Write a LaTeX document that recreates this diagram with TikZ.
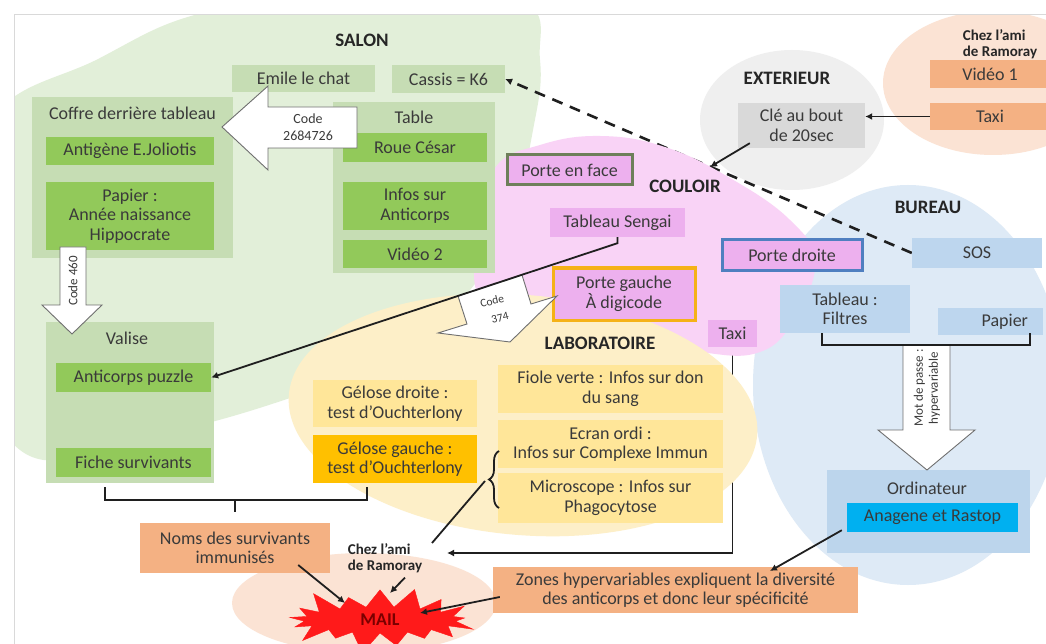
\documentclass[tikz,border=0pt]{standalone}
\usepackage{fontspec}
\setmainfont{Carlito}
\usetikzlibrary{arrows.meta,shapes.symbols,decorations.pathreplacing,calc}
\pgfdeclarelayer{back}
\pgfdeclarelayer{hidden}
\pgfdeclarelayer{mid}
\pgfsetlayers{back,hidden,mid,main}
\definecolor{txtc}{HTML}{3A3A3A}
\definecolor{lblc}{HTML}{262626}
\definecolor{linec}{HTML}{1F1F1F}
\definecolor{framec}{HTML}{D9D9D9}
\definecolor{greenbg}{HTML}{E2EFD9}
\definecolor{gcont}{HTML}{C6DDB4}
\definecolor{gbright}{HTML}{92C95A}
\definecolor{greybg}{HTML}{EFEFEF}
\definecolor{greybox}{HTML}{D9D9D9}
\definecolor{peachbg}{HTML}{FBE3D4}
\definecolor{peachbox}{HTML}{F4B183}
\definecolor{pinkbg}{HTML}{F9D3F6}
\definecolor{pinkbox}{HTML}{EDB0EE}
\definecolor{olivec}{HTML}{6E7F5A}
\definecolor{goldb}{HTML}{F5B217}
\definecolor{blueb}{HTML}{4F7FC0}
\definecolor{bluebg}{HTML}{DEEAF6}
\definecolor{bluebox}{HTML}{BDD6EE}
\definecolor{bluecont}{HTML}{BCD5EC}
\definecolor{cyanbox}{HTML}{00B0F0}
\definecolor{labbg}{HTML}{FDEFC8}
\definecolor{ybox}{HTML}{FFE699}
\definecolor{orbox}{HTML}{FFC000}
\definecolor{mailred}{HTML}{FF1A1A}
\definecolor{mailtxt}{HTML}{7A0000}
\definecolor{blkc}{HTML}{6F6F6F}
\tikzset{
  box/.style={inner sep=0pt, align=center, text=txtc, font=\fontsize{18}{19.5}\selectfont},
  ttl/.style={inner sep=0pt, align=center, text=txtc, font=\fontsize{18}{19.5}\selectfont},
  lbl/.style={inner sep=0pt, text=lblc, font=\fontsize{19}{21}\selectfont\bfseries},
  lbls/.style={inner sep=0pt, align=left, text=lblc, font=\fontsize{15}{15.5}\selectfont\bfseries},
  arr/.style={draw=linec, line width=1.8pt, -{Latex[length=7pt,width=7pt]}},
  dasharr/.style={draw=linec, line width=2.6pt, dash pattern=on 11pt off 8pt, -{Latex[length=7pt,width=7pt]}},
  ln/.style={draw=linec, line width=1.8pt},
  blk/.style={fill=white, draw=blkc, line width=0.9pt, line join=miter},
  blktxt/.style={inner sep=0pt, align=center, text=txtc, font=\fontsize{13}{15}\selectfont},
  brk/.style={draw=linec, line width=2pt},
}
\begin{document}
\begin{tikzpicture}[x=1pt,y=-1pt]
\useasboundingbox (0,0) rectangle (1046,644);
\begin{pgfonlayer}{back}
\fill[white] (0,0) rectangle (1046,644);
\begin{scope}
\clip (14,15) rectangle (1046,644);
\fill[greenbg] plot[smooth cycle, tension=0.7] coordinates {(214,10) (380,-8) (520,0) (540,60) (533,130) (512,210) (470,290) (390,355) (290,398) (150,436) (20,450) (-25,300) (-15,130) (100,58)};
\fill[greybg] (792,120) ellipse [x radius=92, y radius=70];
\fill[peachbg] (993,83) ellipse [x radius=110, y radius=72];
\fill[bluebg] (908,385) ellipse [x radius=155, y radius=200];
\fill[peachbg] (364,603) ellipse [x radius=132, y radius=50];
\end{scope}
\draw[framec, line width=1pt] (14,644) -- (14,15) -- (1046,15);
\end{pgfonlayer}

% ---------- SALON ----------
\node[lbl] (salon) at (362,40) {SALON};
\node[box, fill=gcont, minimum width=143, minimum height=27] (emile) at (303.5,78.5) {Emile le chat};
\node[box, fill=gcont, minimum width=113, minimum height=28] (cassis) at (448.5,79) {Cassis = K6};
\node[box, fill=gcont, minimum width=201, minimum height=161] (coffre) at (132.5,177.5) {};
\node[ttl] (coffreT) at (132.5,113) {Coffre derrière tableau};
\node[box, fill=gbright, minimum width=168, minimum height=28] (antigene) at (130,151) {Antigène E.Joliotis};
\node[box, fill=gbright, minimum width=168, minimum height=68] (papier) at (130,216) {Papier :\\Année naissance\\Hippocrate};
\node[box, fill=gcont, minimum width=162, minimum height=171] (table) at (414,187.5) {};
\node[ttl] (tableT) at (414,117) {Table};
\node[box, fill=gbright, minimum width=144, minimum height=29] (roue) at (415,147.5) {Roue César};
\node[box, fill=gbright, minimum width=144, minimum height=48] (infosA) at (415,206) {Infos sur\\Anticorps};
\node[box, fill=gbright, minimum width=144, minimum height=28] (video2) at (415,254) {Vidéo 2};
\node[box, fill=gcont, minimum width=168, minimum height=161] (valise) at (130,402.5) {};
\node[ttl] (valiseT) at (127,338) {Valise};
\node[box, fill=gbright, minimum width=155, minimum height=29] (puzzle) at (133.5,377.5) {Anticorps puzzle};
\node[box, fill=gbright, minimum width=155, minimum height=29] (fiche) at (133.5,462.5) {Fiche survivants};

% ---------- EXTERIEUR ----------
\node[lbl] (ext) at (787,78) {EXTERIEUR};
\node[box, fill=greybox, minimum width=127, minimum height=45] (cle) at (801.5,125.5) {Clé au bout\\de 20sec};

% ---------- Chez l'ami (haut) ----------
\node[lbls] (chez1) at (1000,44) {Chez l’ami\\de Ramoray};
\node[box, fill=peachbox, minimum width=120, minimum height=28] (video1) at (990,74) {Vidéo 1};
\node[box, fill=peachbox, minimum width=120, minimum height=27] (taxiP) at (990,116.5) {Taxi};

% ---------- COULOIR ----------
\node[lbl] (couloir) at (685,186) {COULOIR};
\node[box, fill=pinkbox, draw=olivec, line width=3pt, minimum width=125, minimum height=30] (pface) at (569.5,170) {Porte en face};
\node[box, fill=pinkbox, minimum width=135, minimum height=29] (sengai) at (617.5,222.5) {Tableau Sengai};
\node[box, fill=pinkbox, draw=goldb, line width=3pt, minimum width=142, minimum height=52] (pgauche) at (624,294) {Porte gauche\\À digicode};
\node[box, fill=pinkbox, draw=blueb, line width=3pt, minimum width=140, minimum height=30] (pdroite) at (792,255) {Porte droite};
\node[box, fill=pinkbox, minimum width=49, minimum height=27] (taxiK) at (732.5,333.5) {Taxi};

% ---------- BUREAU ----------
\node[lbl] (bureau) at (928,207) {BUREAU};
\node[box, fill=bluebox, minimum width=130, minimum height=30] (sos) at (977,253) {SOS};
\node[box, fill=bluebox, minimum width=130, minimum height=48] (filtres) at (845,309) {Tableau :\\Filtres};
\node[box, fill=bluebox, minimum width=105, minimum height=27, text width=75, align=right] (papierB) at (990.5,321.5) {Papier};
\node[box, fill=bluecont, minimum width=203, minimum height=83] (ordi) at (928.5,511.5) {};
\node[ttl] (ordiT) at (927,488) {Ordinateur};
\node[box, fill=cyanbox, minimum width=171, minimum height=29] (anagene) at (932.5,517.5) {Anagene et Rastop};

% ---------- LABORATOIRE ----------
\node[lbl] (labo) at (600,343) {LABORATOIRE};
\node[box, fill=ybox, minimum width=164, minimum height=47] (gdroite) at (395,403.5) {Gélose droite :\\test d’Ouchterlony};
\node[box, fill=orbox, minimum width=164, minimum height=48] (ggauche) at (395,459) {Gélose gauche :\\test d’Ouchterlony};
\node[box, fill=ybox, minimum width=225, minimum height=48] (fiole) at (610.5,389) {Fiole verte : Infos sur don\\du sang};
\node[box, fill=ybox, minimum width=225, minimum height=48] (ecran) at (610.5,444) {Ecran ordi :\\Infos sur Complexe Immun};
\node[box, fill=ybox, minimum width=225, minimum height=50] (micro) at (610.5,498) {Microscope : Infos sur\\Phagocytose};

% ---------- bas ----------
\node[box, fill=peachbox, minimum width=190, minimum height=50] (noms) at (235,548) {Noms des survivants\\immunisés};
\node[lbls] (chez2) at (385,558) {Chez l’ami\\de Ramoray};
\node[box, fill=peachbox, minimum width=365, minimum height=46] (zones) at (675.5,590) {Zones hypervariables expliquent la diversité\\des anticorps et donc leur spécificité};
\node[starburst, starburst points=17, starburst point height=24pt, fill=mailred, draw=mailred, minimum width=200pt, minimum height=74pt, inner sep=0pt, text=mailtxt, font=\fontsize{18}{18}\selectfont\bfseries] (mail) at (380,620) {MAIL};

% ---------- block arrows ----------
\draw[blk] (222,127) -- (268,86) -- (268,107) -- (357,107) -- (357,148) -- (268,148) -- (268,170) -- cycle;
\node[blktxt, font=\fontsize{14}{17}\selectfont] (code1) at (308,127) {Code\\2684726};
\draw[blk] (60,247) -- (86,247) -- (86,305) -- (102,305) -- (72,334) -- (42,305) -- (60,305) -- cycle;
\node[blktxt, rotate=90] (code2) at (73,281) {Code 460};
\draw[blk] (903,345) -- (950,345) -- (950,430) -- (975,430) -- (927,470) -- (878,430) -- (903,430) -- cycle;
\node[blktxt, rotate=90] (code3) at (927,388) {Mot de passe :\\hypervariable};
\draw[blk] (458,296) -- (522,275) -- (531,304) -- (557,296) -- (510,342) -- (438,333) -- (467,324) -- cycle;
\node[blktxt, rotate=14, font=\fontsize{11.5}{12}\selectfont] (code4a) at (492,301) {Code};
\node[blktxt, rotate=14, font=\fontsize{11.5}{12}\selectfont] (code4b) at (500,318) {374};

% ---------- brackets ----------
\coordinate (bl1) at (105,487); \coordinate (bl2) at (367,487);
\coordinate (blm) at (235,500); \coordinate (blm2) at (235,512);
\draw[brk] (bl1) -- (bl1 |- blm) -- (bl2 |- blm) -- (bl2);
\draw[brk] (blm) -- (blm2);
\coordinate (br1) at (822,333); \coordinate (br2) at (1030,333); \coordinate (brm) at (927,345);
\draw[brk] (br1) -- (br1 |- brm) -- (br2 |- brm) -- (br2);
\coordinate (bb1) at (499,508); \coordinate (bb2) at (499,451);
\draw[brk, line width=1.8pt, decorate, decoration={brace, amplitude=10pt}] (bb1) -- (bb2);

% ---------- hidden connectors ----------
\coordinate (chezIn) at (447,553);
\begin{pgfonlayer}{hidden}
\draw[dasharr] (sos.west) -- (cassis.east);
\draw[arr] (taxiK.south) |- (chezIn);
\end{pgfonlayer}
\begin{pgfonlayer}{mid}
\fill[pinkbg] plot[smooth cycle, tension=0.7] coordinates {(495,168) (540,145) (600,136) (665,147) (730,178) (790,220) (815,262) (795,318) (760,352) (700,352) (620,335) (540,318) (480,298) (480,230)};
\fill[labbg, rotate around={-5:(523,415)}] (523,415) ellipse [x radius=235, y radius=120];
\end{pgfonlayer}

% ---------- connectors ----------
\draw[arr] (taxiP.west) -- (cle.east |- taxiP.west);
\coordinate (cpt) at (710,167);
\draw[arr] ($(cle.south west)+(12,-5)$) -- (cpt);
\draw[arr] (sengai.south) -- ++(0,6) -- (puzzle.east);
\coordinate (bt) at (485,481);
\coordinate (chezNE) at (432,543);
\draw[ln] (bt) -- (chezNE);
\coordinate (m1) at (345,603);
\coordinate (m2) at (390,593);
\coordinate (m3) at (420,613);
\coordinate (zNE) at (770,571);
\draw[arr] ($(noms.east)+(-32,17)$) -- (m1);
\draw[arr] ($(chez2.south)+(20,5)$) -- (m2);
\draw[arr] ($(zones.west)+(7,7)$) -- (m3);
\draw[arr] ($(anagene.south west)+(-5,-2)$) -- (zNE);
\end{tikzpicture}
\end{document}
